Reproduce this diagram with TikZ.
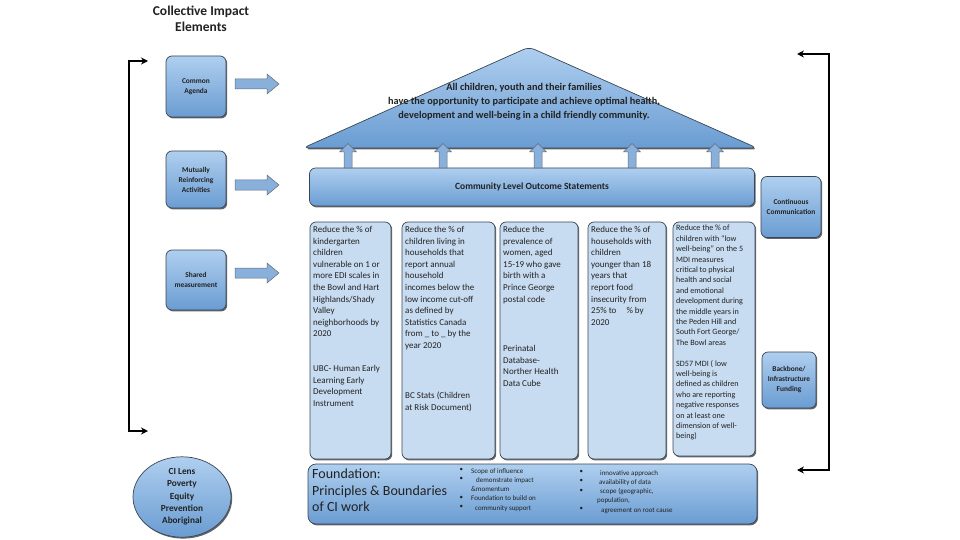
\documentclass[tikz,border=0pt]{standalone}
\usepackage{fontspec}
\setmainfont{Carlito}
\usetikzlibrary{shapes.geometric,arrows.meta,shadows}
\definecolor{boxtop}{HTML}{AFCFEF}
\definecolor{boxbot}{HTML}{6A9CD2}
\definecolor{colfill}{HTML}{C8DCF1}
\definecolor{edgec}{HTML}{3A4656}
\definecolor{txt}{HTML}{222222}
\begin{document}
\begin{tikzpicture}[x=1pt,y=-1pt,
  shad/.style={drop shadow={shadow xshift=1.2pt,shadow yshift=-1.4pt,opacity=0.75,fill=black!80}},
  elbox/.style={draw=edgec,line width=0.7pt,rounded corners=6pt,top color=boxtop,bottom color=boxbot,shad,inner sep=0pt,align=center,text=txt,font=\fontsize{7.4}{10}\selectfont\bfseries},
  colbox/.style={draw=edgec,line width=0.7pt,rounded corners=6pt,fill=colfill,shad,inner sep=0pt},
  coltxt/.style={anchor=north west,align=left,inner sep=0pt,text=txt,font=\fontsize{9}{11.6}\selectfont},
  smalltxt/.style={anchor=north west,align=left,inner sep=0pt,text=txt,font=\fontsize{8.1}{10.4}\selectfont},
  bultxt/.style={anchor=north west,align=left,inner sep=0pt,text=txt,font=\fontsize{7}{9.3}\selectfont},
  arr/.style={fill=boxbot!80!white,draw=edgec!80,line width=0.5pt},
  brk/.style={line width=1.8pt,{Stealth[length=7pt,width=7pt]}-{Stealth[length=7pt,width=7pt]}}
]
\useasboundingbox (0,0) rectangle (960,540);
\fill[white] (0,0) rectangle (960,540);

% title
\node[align=center,text=txt,font=\fontsize{13.5}{16}\selectfont\bfseries] (title) at (201,19) {Collective Impact\\Elements};

% left element boxes
\node[elbox,minimum width=60pt,minimum height=61pt] (ca) at (196,86.5) {Common\\Agenda};
\node[elbox,minimum width=60pt,minimum height=57pt] (mr) at (196,179.5) {Mutually\\Reinforcing\\Activities};
\node[elbox,minimum width=60pt,minimum height=60pt] (sm) at (196,280) {Shared\\measurement};
% right element boxes
\node[elbox,minimum width=60pt,minimum height=61pt] (cc) at (791,207) {Continuous\\Communication};
\node[elbox,minimum width=54pt,minimum height=56pt] (bb) at (789,380) {Backbone/\\Infrastructure\\Funding};

% roof
\path[draw=edgec,line width=0.7pt,rounded corners=6pt,top color=boxtop,bottom color=boxbot,shad]
  (303,148) -- (529,47) -- (757,148) -- cycle;
\node[align=center,text=txt,font=\fontsize{10.3}{14}\selectfont\bfseries] (vision) at (524,102)
  {All children, youth and their families\\have the opportunity to participate and achieve optimal health,\\development and well-being in a child friendly community.};

% community bar
\node[elbox,minimum width=445pt,minimum height=38pt,font=\fontsize{9.5}{11}\selectfont\bfseries] (cl) at (532,187) {Community Level Outcome Statements};

% up arrows
\foreach \x in {348,443,538,632,715}{
  \path[arr] (\x-4,168) -- (\x-4,152) -- (\x-8.5,152) -- (\x,143.5) -- (\x+8.5,152) -- (\x+4,152) -- (\x+4,168) -- cycle;
}

% right block arrows
\foreach \y in {84,185,273}{
  \path[arr] (235,\y-5) -- (267,\y-5) -- (267,\y-10) -- (279,\y) -- (267,\y+10) -- (267,\y+5) -- (235,\y+5) -- cycle;
}

% columns
\node[colbox,minimum width=81pt,minimum height=237pt] (c1) at (350.5,340.5) {};
\node[colbox,minimum width=93pt,minimum height=237pt] (c2) at (448.5,340.5) {};
\node[colbox,minimum width=78pt,minimum height=237pt] (c3) at (539,340.5) {};
\node[colbox,minimum width=78pt,minimum height=237pt] (c4) at (627,340.5) {};
\node[colbox,minimum width=82pt,minimum height=234pt] (c5) at (714,339) {};

\node[coltxt] (t1) at (313,226) {Reduce the \% of\\kindergarten\\children\\vulnerable on 1 or\\more EDI scales in\\the Bowl and Hart\\Highlands/Shady\\Valley\\neighborhoods by\\2020};
\node[coltxt] (s1) at (313,365) {UBC- Human Early\\Learning Early\\Development\\Instrument};

\node[coltxt] (t2) at (405,226) {Reduce the \% of\\children living in\\households that\\report annual\\household\\incomes below the\\low income cut-off\\as defined by\\Statistics Canada\\from \_ to \_ by the\\year 2020};
\node[coltxt] (s2) at (405,392) {BC Stats (Children\\at Risk Document)};

\node[coltxt] (t3) at (503,226) {Reduce the\\prevalence of\\women, aged\\15-19 who gave\\birth with a\\Prince George\\postal code};
\node[coltxt] (s3) at (503,345) {Perinatal\\Database-\\Norther Health\\Data Cube};

\node[coltxt] (t4) at (591,226) {Reduce the \% of\\households with\\children\\younger than 18\\years that\\report food\\insecurity from\\25\% to \hspace{8pt}\% by\\2020};

\node[smalltxt] (t5) at (676,225) {Reduce the \% of\\children with ``low\\well-being'' on the 5\\MDI measures\\critical to physical\\health and social\\and emotional\\development during\\the middle years in\\the Peden Hill and\\South Fort George/\\The Bowl areas\\\mbox{}\\SD57 MDI ( low\\well-being is\\defined as children\\who are reporting\\negative responses\\on at least one\\dimension of well-\\being)};

% foundation
\node[elbox,minimum width=449pt,minimum height=60pt,rounded corners=8pt] (fd) at (532.5,494) {};
\node[anchor=north west,align=left,inner sep=0pt,text=txt,font=\fontsize{14}{16.5}\selectfont] (fdt) at (312,469) {Foundation:\\Principles \& Boundaries\\of CI work};
\node[bultxt] (b1) at (459.5,468) {•\\•\\\mbox{}\\•\\•};
\node[bultxt] (l1) at (471,468) {Scope of influence\\\hspace{5pt}demonstrate impact\\\&momentum\\Foundation to build on\\\hspace{4pt}community support};
\node[bultxt] (b2) at (579.5,470) {•\\•\\•\\\mbox{}\\•};
\node[bultxt] (l2) at (597,470) {\hspace{3pt}innovative approach\\\hspace{2pt}availability of data\\\hspace{3pt}scope (geographic,\\population,\\\hspace{4pt}agreement on root cause};

% lens
\node[ellipse,draw=edgec,line width=0.7pt,top color=boxtop,bottom color=boxbot,shad,minimum width=98pt,minimum height=75pt,inner sep=0pt,align=center,text=txt,font=\fontsize{9.3}{12.3}\selectfont\bfseries] (lens) at (182,497) {CI Lens\\Poverty\\Equity\\Prevention\\Aboriginal};

% brackets
\coordinate (la) at (148,61);
\coordinate (lb) at (148,431);
\draw[brk] (la) -- (129,61) -- (129,431) -- (lb);
\coordinate (ra) at (797,54);
\coordinate (rb) at (797,470);
\draw[brk] (ra) -- (829,54) -- (829,470) -- (rb);
\end{tikzpicture}
\end{document}
